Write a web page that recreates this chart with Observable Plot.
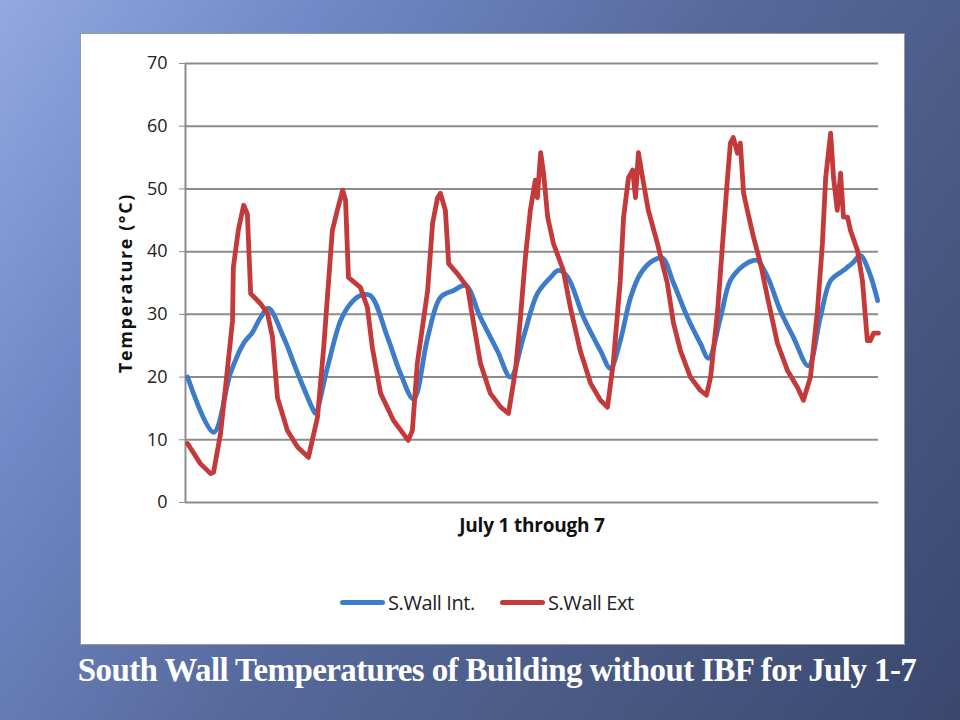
<!DOCTYPE html>
<html>
<head>
<meta charset="utf-8">
<script src="https://cdn.jsdelivr.net/npm/d3@7"></script>
<script src="https://cdn.jsdelivr.net/npm/@observablehq/plot@0.6"></script>
<style>
  html, body { margin: 0; padding: 0; }
  body {
    width: 960px; height: 720px; position: relative; overflow: hidden;
    background: linear-gradient(125deg, #93a8e0 0%, #7189c6 22%, #56699c 50%, #46567f 78%, #3a486e 100%);
    font-family: "Liberation Sans", Arial, sans-serif;
  }
  #panel {
    position: absolute; left: 80px; top: 33px; width: 823px; height: 610px;
    background: #fff; border: 1px solid #9a9a9a;
  }
  #chart { position: absolute; left: 80px; top: 33px; }
  #ylabel {
    position: absolute; left: 125px; top: 283px;
    transform: translate(-50%, -50%) rotate(-90deg);
    font-family: "Open Sans", "Liberation Sans", sans-serif;
    font-weight: bold; font-size: 18px; color: #111; white-space: nowrap; letter-spacing: 1.6px;
  }
  #xlabel {
    position: absolute; left: 532px; top: 525px; transform: translate(-50%, -50%);
    font-family: "Open Sans", "Liberation Sans", sans-serif;
    font-weight: bold; font-size: 19px; color: #111; white-space: nowrap; letter-spacing: -0.2px;
  }
  #legend {
    position: absolute; left: 340px; top: 589px; font-size: 20px; color: #222;
    font-family: "Open Sans", "Liberation Sans", sans-serif; white-space: nowrap;
    display: flex; align-items: center; letter-spacing: -0.4px;
  }
  #legend .sw { display: inline-block; width: 45px; height: 5px; border-radius: 3px; margin-right: 3px; }
  #legend .item { display: inline-flex; align-items: center; margin-right: 25px; }
  #title {
    position: absolute; left: 0; width: 994px; top: 652px; text-align: center;
    font-family: "Liberation Serif", "Times New Roman", serif; font-weight: bold;
    font-size: 33px; color: #fff; letter-spacing: -0.6px;
  }
</style>
</head>
<body>
<div id="panel"></div>
<div id="chart"></div>
<div id="ylabel">Temperature (°C)</div>
<div id="xlabel">July 1 through 7</div>
<div id="legend"></div>
<div id="title">South Wall Temperatures of Building without IBF for July 1-7</div>
<script>
// Hours since start of July 1 (0..168) and temperatures (°C)
const seriesNames = ["S.Wall Int.", "S.Wall Ext"];
const seriesColors = ["#3d7cc9", "#c4393a"];
const yTicks = [0, 10, 20, 30, 40, 50, 60, 70];

const intHours = [0.5, 6.8, 10.9, 14.1, 16.2, 18.2, 20.1, 23.8, 27.2, 31.0, 31.5, 34.4, 37.6, 40.0, 42.4, 44.8, 49.0, 52.1, 55.3, 58.7, 61.8, 65.0, 67.9, 71.5, 75.6, 78.8, 81.9, 85.3, 88.5, 90.4, 92.6, 96.5, 100.6, 103.0, 105.4, 107.9, 110.3, 113.4, 115.6, 118.3, 121.7, 124.8, 126.8, 129.7, 132.1, 135.3, 137.7, 138.7, 141.1, 144.2, 147.4, 151.0, 153.9, 156.4, 159.5, 161.9, 163.6, 165.6, 167.8];
const intTemps = [20.0, 11.2, 20.6, 25.4, 27.1, 29.5, 31.0, 26.3, 20.6, 14.7, 14.2, 21.5, 29.0, 31.7, 33.0, 33.0, 26.3, 20.6, 16.5, 26.3, 32.7, 33.8, 34.6, 29.5, 24.2, 20.0, 26.3, 33.3, 35.9, 37.0, 36.0, 29.5, 24.2, 21.4, 25.8, 32.7, 36.5, 38.6, 39.0, 35.0, 29.5, 25.4, 23.0, 29.5, 35.4, 37.8, 38.6, 38.6, 36.0, 30.6, 26.3, 21.8, 29.5, 35.4, 37.0, 38.3, 39.4, 37.0, 32.2];

const extHours = [0.5, 3.6, 6.1, 6.8, 8.5, 10.2, 11.4, 11.6, 12.8, 14.1, 15.0, 15.8, 18.2, 19.9, 21.1, 22.3, 24.7, 27.2, 29.8, 32.0, 33.5, 34.7, 35.6, 36.8, 38.1, 38.8, 39.5, 42.4, 44.1, 45.3, 47.3, 50.4, 54.0, 55.0, 56.2, 58.7, 59.9, 61.1, 61.8, 63.0, 63.8, 65.9, 68.4, 69.6, 71.5, 73.9, 76.4, 78.3, 80.0, 81.2, 82.4, 83.6, 84.8, 85.3, 86.1, 86.8, 87.8, 89.2, 91.6, 93.3, 95.7, 98.2, 100.6, 102.3, 103.7, 105.4, 106.2, 107.4, 108.4, 109.1, 109.8, 110.8, 112.2, 114.4, 116.8, 118.3, 120.0, 122.4, 124.8, 126.3, 127.3, 129.0, 130.2, 131.4, 132.1, 132.8, 133.8, 134.5, 135.3, 136.2, 137.7, 139.4, 141.1, 143.5, 145.9, 148.4, 149.8, 151.5, 153.2, 154.4, 155.2, 156.4, 157.1, 158.0, 158.8, 159.5, 160.5, 161.2, 162.9, 164.1, 165.3, 166.0, 166.8, 168.0];
const extTemps = [9.4, 6.2, 4.6, 4.8, 11.0, 21.5, 29.0, 37.5, 43.4, 47.4, 46.0, 33.3, 31.7, 30.1, 26.3, 16.7, 11.5, 8.8, 7.2, 13.6, 24.7, 35.4, 43.4, 46.6, 49.8, 48.2, 35.9, 34.3, 31.1, 24.7, 17.4, 13.1, 9.9, 11.5, 22.2, 33.8, 44.5, 48.6, 49.3, 46.6, 38.1, 36.5, 34.3, 29.5, 22.2, 17.4, 15.2, 14.2, 21.1, 29.5, 39.1, 46.6, 51.4, 48.6, 55.8, 52.5, 45.5, 41.3, 37.0, 31.1, 24.2, 19.0, 16.3, 15.2, 22.2, 35.4, 45.5, 51.8, 53.0, 48.6, 55.8, 51.8, 46.6, 41.3, 35.0, 28.6, 24.2, 20.0, 17.9, 17.1, 20.0, 30.6, 41.3, 51.8, 57.3, 58.2, 55.7, 57.3, 49.3, 46.6, 42.3, 38.1, 32.7, 25.4, 21.1, 18.3, 16.3, 20.0, 30.6, 41.3, 51.8, 58.9, 51.8, 46.6, 52.5, 45.5, 45.5, 43.4, 40.2, 35.4, 25.8, 25.8, 27.0, 27.0];

const intData = intHours.map((h, i) => ({h, v: intTemps[i]}));
const extData = extHours.map((h, i) => ({h, v: extTemps[i]}));

const chart = Plot.plot({
  width: 825,
  height: 612,
  marginLeft: 105,
  marginRight: 27,
  marginTop: 30,
  marginBottom: 143,
  style: {fontFamily: "'Open Sans', 'Liberation Sans', sans-serif", fontSize: "17px", color: "#222", background: "transparent"},
  x: {domain: [0, 168], axis: null},
  y: {domain: [0, 70], ticks: yTicks, label: null},
  marks: [
    Plot.gridY(yTicks, {stroke: "#8c8c8c", strokeOpacity: 1, strokeWidth: 2}),
    Plot.ruleX([0], {stroke: "#8c8c8c", strokeWidth: 2}),
    Plot.axisY({ticks: yTicks, tickSize: 6, tickPadding: 12, stroke: "#8c8c8c", label: null, fill: "#222", fontSize: 18}),
    Plot.line(intData, {x: "h", y: "v", stroke: seriesColors[0], strokeWidth: 4.8, curve: "catmull-rom"}),
    Plot.line(extData, {x: "h", y: "v", stroke: seriesColors[1], strokeWidth: 4.8, curve: "linear", strokeLinejoin: "round"})
  ]
});
document.getElementById("chart").appendChild(chart);

const legend = document.getElementById("legend");
seriesNames.forEach((name, i) => {
  const item = document.createElement("span");
  item.className = "item";
  const sw = document.createElement("span");
  sw.className = "sw";
  sw.style.background = seriesColors[i];
  item.appendChild(sw);
  item.appendChild(document.createTextNode(name));
  legend.appendChild(item);
});
</script>
</body>
</html>
